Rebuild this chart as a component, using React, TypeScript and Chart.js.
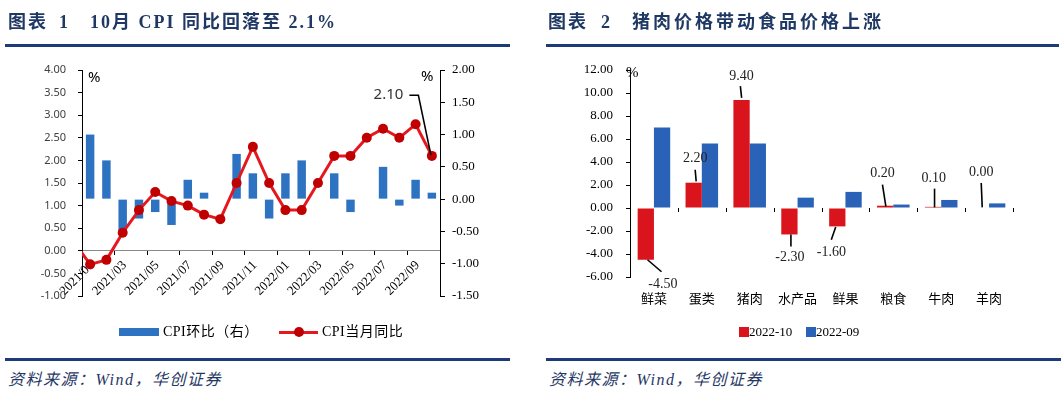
import React, { useEffect, useRef } from 'react';
import { Chart, registerables } from 'chart.js';

Chart.register(...registerables);

// ---------- Chart 1 data ----------
const prevMonth = '2020/12';
const prevYoY = 0.2;
const months = [
  '2021/01', '2021/02', '2021/03', '2021/04', '2021/05', '2021/06',
  '2021/07', '2021/08', '2021/09', '2021/10', '2021/11', '2021/12',
  '2022/01', '2022/02', '2022/03', '2022/04', '2022/05', '2022/06',
  '2022/07', '2022/08', '2022/09', '2022/10',
];
const cpiYoY = [-0.3, -0.2, 0.4, 0.9, 1.3, 1.1, 1.0, 0.8, 0.7, 1.5, 2.3, 1.5, 0.9, 0.9, 1.5, 2.1, 2.1, 2.5, 2.7, 2.5, 2.8, 2.1];
const cpiMoM = [1.0, 0.6, -0.5, -0.3, -0.2, -0.4, 0.3, 0.1, 0.0, 0.7, 0.4, -0.3, 0.4, 0.6, 0.0, 0.4, -0.2, 0.0, 0.5, -0.1, 0.3, 0.1];
const leftAxisRange = [-1, 4];
const rightAxisRange = [-1.5, 2];

// ---------- Chart 2 data ----------
const foodItems = ['鲜菜', '蛋类', '猪肉', '水产品', '鲜果', '粮食', '牛肉', '羊肉'];
const oct2022 = [-4.5, 2.2, 9.4, -2.3, -1.6, 0.2, 0.1, 0.0];
const sep2022 = [7.0, 5.6, 5.6, 0.9, 1.4, 0.3, 0.7, 0.4];
const foodAxisRange = [-6, 12];

// label placement for the red series (text dx,dy ; leader x1,y1,x2,y2) relative to bar tip
const redLabelPlacement = [
  [17, 25, 1.7, 0, 15.7, 12],
  [1.5, -24, 2.5, -1.3, 1.5, -13],
  [0, -23.7, 0.1, -2.1, -1.2, -13.7],
  [0.5, 23.3, 1.5, 0, 1.5, 12],
  [-6, 26, -1.6, 0.6, -6, 13.3],
  [-2.7, -32, -2.7, -21, 0.7, 0.7],
  [0.8, -28.2, 1.5, -18.2, 1.5, 0.5],
  [0.3, -36, 0.3, -25, 1.3, -0.6],
];

const NAVY = '#1F3A78';
const TEXT_NAVY = '#1F3864';
const SERIF = '"Liberation Serif", "Noto Sans CJK SC", serif';

const yoyLabelPlugin = {
  id: 'yoyLabel',
  afterDatasetsDraw(chart: any) {
    const meta = chart.getDatasetMeta(0);
    const pt = meta.data[meta.data.length - 1];
    if (!pt) return;
    const ctx = chart.ctx;
    ctx.save();
    ctx.strokeStyle = '#000';
    ctx.lineWidth = 1.6;
    ctx.beginPath();
    ctx.moveTo(pt.x - 22.5, pt.y - 60.7);
    ctx.lineTo(pt.x - 13.5, pt.y - 60.7);
    ctx.lineTo(pt.x - 1, pt.y - 1);
    ctx.stroke();
    ctx.font = '15px "Noto Sans"';
    ctx.fillStyle = '#333';
    ctx.textAlign = 'right';
    ctx.textBaseline = 'middle';
    ctx.fillText(cpiYoY[cpiYoY.length - 1].toFixed(2), pt.x - 28.5, pt.y - 60.7);
    ctx.restore();
  },
};

const foodDecoPlugin = {
  id: 'foodDeco',
  afterDatasetsDraw(chart: any) {
    const ctx = chart.ctx;
    const x = chart.scales.x;
    const y = chart.scales.y;
    const y0 = y.getPixelForValue(0);
    const half = (x.getPixelForValue(1) - x.getPixelForValue(0)) / 2;
    ctx.save();
    ctx.strokeStyle = '#000';
    ctx.lineWidth = 1;
    ctx.beginPath();
    for (let i = 0; i < foodItems.length; i++) {
      const bx = Math.round(x.getPixelForValue(i) + half) + 0.5;
      ctx.moveTo(bx, y0);
      ctx.lineTo(bx, y0 + 4);
    }
    ctx.stroke();
    // data labels of the red series
    const meta = chart.getDatasetMeta(0);
    ctx.font = '14px "Liberation Serif"';
    ctx.fillStyle = '#222';
    ctx.textAlign = 'center';
    ctx.textBaseline = 'middle';
    ctx.lineWidth = 1.6;
    meta.data.forEach((bar: any, i: number) => {
      const p = redLabelPlacement[i];
      ctx.beginPath();
      ctx.moveTo(bar.x + p[2], bar.y + p[3]);
      ctx.lineTo(bar.x + p[4], bar.y + p[5]);
      ctx.stroke();
      ctx.fillText(oct2022[i].toFixed(2), bar.x + p[0], bar.y + p[1]);
    });
    ctx.restore();
  },
};

export default function App() {
  const leftRef = useRef<HTMLCanvasElement>(null);
  const rightRef = useRef<HTMLCanvasElement>(null);

  useEffect(() => {
    const labels = [prevMonth, ...months];
    const yoy = [prevYoY, ...cpiYoY];
    const mom = [null, ...cpiMoM];

    const c1 = new Chart(leftRef.current as HTMLCanvasElement, {
      type: 'bar',
      data: {
        labels,
        datasets: [
          {
            type: 'line',
            label: 'CPI当月同比',
            data: yoy,
            yAxisID: 'y',
            borderColor: '#E3191F',
            borderWidth: 3,
            pointRadius: (c: any) => (c.dataIndex === 0 ? 0 : 5),
            pointBackgroundColor: '#C00000',
            pointBorderColor: '#C00000',
            pointBorderWidth: 0,
            tension: 0,
            clip: { left: 0, top: 10, right: 10, bottom: 10 },
            order: 0,
          } as any,
          {
            type: 'bar',
            label: 'CPI环比（右）',
            data: mom,
            yAxisID: 'y1',
            backgroundColor: '#2E72C2',
            barPercentage: 0.52,
            categoryPercentage: 1,
            order: 1,
          } as any,
        ],
      },
      options: {
        responsive: false,
        animation: false,
        layout: { padding: { left: 0, top: 70, right: 0, bottom: 54 } },
        plugins: { legend: { display: false }, tooltip: { enabled: false } },
        scales: {
          x: {
            type: 'category',
            min: months[0],
            position: { y: 0 } as any,
            offset: true,
            grid: {
              display: true,
              offset: true,
              drawOnChartArea: false,
              drawTicks: true,
              tickLength: 4,
              color: (c: any) => (c.index !== undefined && c.index > 0 && c.index % 2 === 0 ? '#000' : 'rgba(0,0,0,0)'),
            },
            border: { display: true, color: '#8a8a8a', width: 1 },
            ticks: {
              autoSkip: false,
              minRotation: 45,
              maxRotation: 45,
              padding: 3,
              labelOffset: 2,
              color: '#000',
              font: { family: 'Liberation Serif', size: 13 },
              callback: function (this: any, value: any, index: number) {
                return index % 2 === 0 ? this.getLabelForValue(value) : '';
              },
            },
          },
          y: {
            position: 'left',
            min: leftAxisRange[0],
            max: leftAxisRange[1],
            ticks: {
              stepSize: 0.5,
              padding: 12,
              color: '#404040',
              font: { family: 'Noto Sans', size: 11 },
              callback: (v: any) => Number(v).toFixed(2),
            },
            grid: { drawOnChartArea: false, tickLength: 4, color: '#000' },
            border: { color: '#000' },
            afterFit: (s: any) => { s.width = 82; },
          },
          y1: {
            position: 'right',
            min: rightAxisRange[0],
            max: rightAxisRange[1],
            ticks: {
              stepSize: 0.5,
              padding: 7,
              color: '#000',
              font: { family: 'Liberation Serif', size: 13 },
              callback: (v: any) => Number(v).toFixed(2),
            },
            grid: { drawOnChartArea: false, tickLength: 5, color: '#000' },
            border: { color: '#000' },
            afterFit: (s: any) => { s.width = 90; },
          },
        },
      } as any,
      plugins: [yoyLabelPlugin],
    });

    const c2 = new Chart(rightRef.current as HTMLCanvasElement, {
      type: 'bar',
      data: {
        labels: foodItems,
        datasets: [
          { label: '2022-10', data: oct2022, backgroundColor: '#D9141C', categoryPercentage: 0.68, barPercentage: 1 },
          { label: '2022-09', data: sep2022, backgroundColor: '#2A62B8', categoryPercentage: 0.68, barPercentage: 1 },
        ],
      },
      options: {
        responsive: false,
        animation: false,
        layout: { padding: { left: 0, top: 70, right: 48, bottom: 0 } },
        plugins: { legend: { display: false }, tooltip: { enabled: false } },
        scales: {
          x: {
            grid: { display: false },
            border: { display: false },
            ticks: { padding: 5, color: '#000', font: { family: 'Noto Sans CJK SC', size: 13 } },
            afterFit: (s: any) => { s.height = 73; },
          },
          y: {
            min: foodAxisRange[0],
            max: foodAxisRange[1],
            ticks: {
              stepSize: 2,
              padding: 13,
              color: '#000',
              font: { family: 'Liberation Serif', size: 13 },
              callback: (v: any) => Number(v).toFixed(2),
            },
            grid: { drawOnChartArea: false, tickLength: 4, color: '#000' },
            border: { color: '#000' },
            afterFit: (s: any) => { s.width = 100; },
          },
        },
      } as any,
      plugins: [foodDecoPlugin],
    });

    return () => {
      c1.destroy();
      c2.destroy();
    };
  }, []);

  const abs = (o: any): React.CSSProperties => ({ position: 'absolute', whiteSpace: 'nowrap', ...o });
  const headStyle = { fontFamily: SERIF, fontWeight: 'bold', fontSize: 18, lineHeight: '22px', color: TEXT_NAVY, letterSpacing: '2px' };
  const footStyle = { fontFamily: SERIF, fontStyle: 'italic', fontSize: 16, lineHeight: '20px', color: TEXT_NAVY, letterSpacing: '1.5px' };
  const legStyle = { fontFamily: SERIF, fontSize: 13, lineHeight: '16px', color: '#000' };
  const legCjkStyle = { fontFamily: SERIF, fontSize: 14, lineHeight: '16px', color: '#000', letterSpacing: '0.5px' };

  return (
    <div style={{ position: 'absolute', left: 0, top: 0, width: 1061, height: 393, background: '#fff', overflow: 'hidden' }}>
      <canvas ref={leftRef} width={530} height={350} style={{ position: 'absolute', left: 0, top: 0, width: 530, height: 350 }} />
      <canvas ref={rightRef} width={531} height={350} style={{ position: 'absolute', left: 530, top: 0, width: 531, height: 350 }} />

      {/* headers */}
      <div style={abs({ left: 8, top: 11, ...headStyle })}>图表</div>
      <div style={abs({ left: 59, top: 11, ...headStyle })}>1</div>
      <div style={abs({ left: 90, top: 11, ...headStyle })}>10月 CPI 同比回落至 2.1%</div>
      <div style={abs({ left: 548, top: 11, ...headStyle })}>图表</div>
      <div style={abs({ left: 601, top: 11, ...headStyle })}>2</div>
      <div style={abs({ left: 632, top: 11, ...headStyle, letterSpacing: '3px' })}>猪肉价格带动食品价格上涨</div>
      <div style={abs({ left: 5, top: 44, width: 505, height: 3, background: NAVY })} />
      <div style={abs({ left: 546, top: 44, width: 513, height: 3, background: NAVY })} />

      {/* unit marks */}
      <div style={abs({ left: 88, top: 66, fontFamily: '"Noto Sans", sans-serif', fontSize: 15, lineHeight: '20px', color: '#000' })}>%</div>
      <div style={abs({ left: 421, top: 65, fontFamily: '"Noto Sans", sans-serif', fontSize: 15, lineHeight: '20px', color: '#000' })}>%</div>
      <div style={abs({ left: 626, top: 63, fontFamily: SERIF, fontSize: 15, lineHeight: '18px', color: '#000' })}>%</div>

      {/* left legend */}
      <div style={abs({ left: 119, top: 328, width: 40, height: 8, background: '#2E72C2' })} />
      <div style={abs({ left: 163, top: 324, ...legCjkStyle })}>CPI环比（右）</div>
      <div style={abs({ left: 279, top: 330.5, width: 39, height: 3, background: '#E3191F' })} />
      <div style={abs({ left: 293.5, top: 327, width: 10, height: 10, borderRadius: '50%', background: '#C00000' })} />
      <div style={abs({ left: 322, top: 324, ...legCjkStyle })}>CPI当月同比</div>

      {/* right legend */}
      <div style={abs({ left: 739, top: 327, width: 10, height: 10, background: '#D9141C' })} />
      <div style={abs({ left: 749, top: 324, ...legStyle })}>2022-10</div>
      <div style={abs({ left: 806, top: 327, width: 10, height: 10, background: '#2A62B8' })} />
      <div style={abs({ left: 816, top: 324, ...legStyle })}>2022-09</div>

      {/* footers */}
      <div style={abs({ left: 5, top: 357.5, width: 505, height: 3, background: NAVY })} />
      <div style={abs({ left: 546, top: 357.5, width: 515, height: 3, background: NAVY })} />
      <div style={abs({ left: 8, top: 370, ...footStyle })}>资料来源：Wind，华创证券</div>
      <div style={abs({ left: 549, top: 370, ...footStyle })}>资料来源：Wind，华创证券</div>
    </div>
  );
}
